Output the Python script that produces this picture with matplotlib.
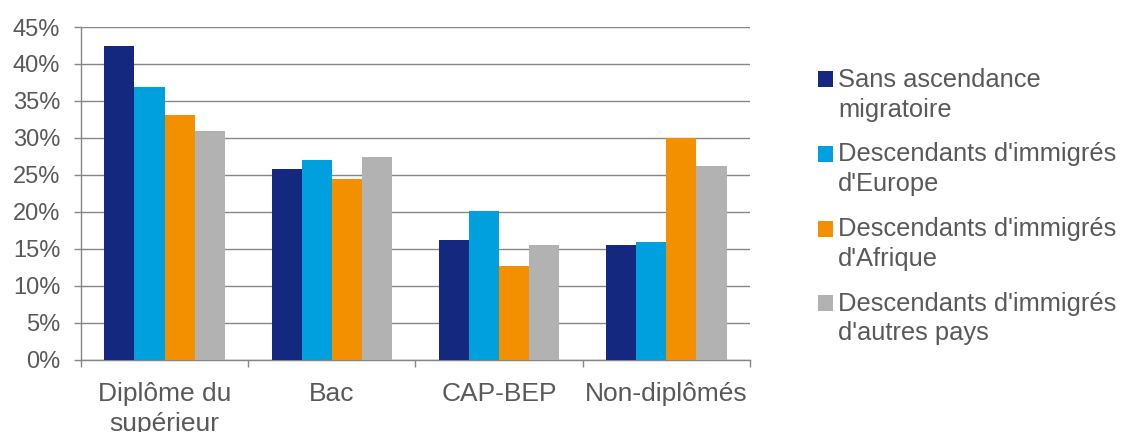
import matplotlib.pyplot as plt
from matplotlib.patches import Rectangle
from matplotlib.container import BarContainer
from matplotlib.legend_handler import HandlerPatch
import numpy as np

categories = ["Diplôme du\nsupérieur", "Bac", "CAP-BEP", "Non-diplômés"]
series_names = [
    "Sans ascendance\nmigratoire",
    "Descendants d'immigrés\nd'Europe",
    "Descendants d'immigrés\nd'Afrique",
    "Descendants d'immigrés\nd'autres pays",
]
sans_ascendance = [42.4, 25.8, 16.2, 15.5]
europe = [36.9, 27.0, 20.1, 15.9]
afrique = [33.1, 24.4, 12.7, 30.0]
autres = [30.9, 27.4, 15.5, 26.2]
colors = ["#14287F", "#00A0DF", "#F39000", "#B2B2B2"]

text_color = "#595959"
grid_color = "#868686"

plt.rcParams["font.family"] = ["Liberation Sans", "DejaVu Sans"]


def top_square(legend, orig_handle, xdescent, ydescent, width, height, fontsize):
    # put the square next to the first line of a two-line label
    return Rectangle((-xdescent, -ydescent + 0.62 * fontsize), width, height)


def first_child(handle, orig):
    handle.update_from(orig[0])


fig = plt.figure(figsize=(11.31, 4.32), dpi=100)
ax = fig.add_axes([0.0716, 0.1667, 0.5915, 0.7708])

x = np.arange(len(categories))
width = 0.18
for i, (vals, name) in enumerate(zip([sans_ascendance, europe, afrique, autres], series_names)):
    ax.bar(x + (i - 1.5) * width, vals, width, color=colors[i], label=name, zorder=3)

ax.set_xlim(-0.5, len(categories) - 0.5)
ax.set_ylim(0, 45)
ax.set_yticks(range(0, 46, 5))
ax.set_yticklabels([f"{v}%" for v in range(0, 46, 5)])
ax.set_xticks(x)
ax.set_xticklabels(categories, linespacing=1.3)
ax.set_xticks(np.arange(-0.5, len(categories), 1.0), minor=True)

ax.grid(axis="y", color=grid_color, linewidth=1.0, zorder=0)
for side in ["top", "right"]:
    ax.spines[side].set_visible(False)
for side in ["left", "bottom"]:
    ax.spines[side].set_color(grid_color)
    ax.spines[side].set_linewidth(1.0)

ax.tick_params(axis="y", length=5, width=1.0, color=grid_color, pad=10,
               labelsize=17, labelcolor=text_color)
ax.tick_params(axis="x", which="major", length=0, pad=16,
               labelsize=19, labelcolor=text_color)
ax.tick_params(axis="x", which="minor", length=5, width=1.0, color=grid_color)

leg = fig.legend(loc="upper left", bbox_to_anchor=(0.723, 0.843), frameon=False,
                 fontsize=18.4, labelcolor=text_color, handlelength=0.6,
                 handleheight=0.58, handletextpad=0.2, labelspacing=0.82,
                 borderpad=0, borderaxespad=0,
                 handler_map={BarContainer: HandlerPatch(patch_func=top_square,
                                                         update_func=first_child)})
for t in leg.get_texts():
    t.set_linespacing(1.3)

fig.savefig("out.png", dpi=100)
